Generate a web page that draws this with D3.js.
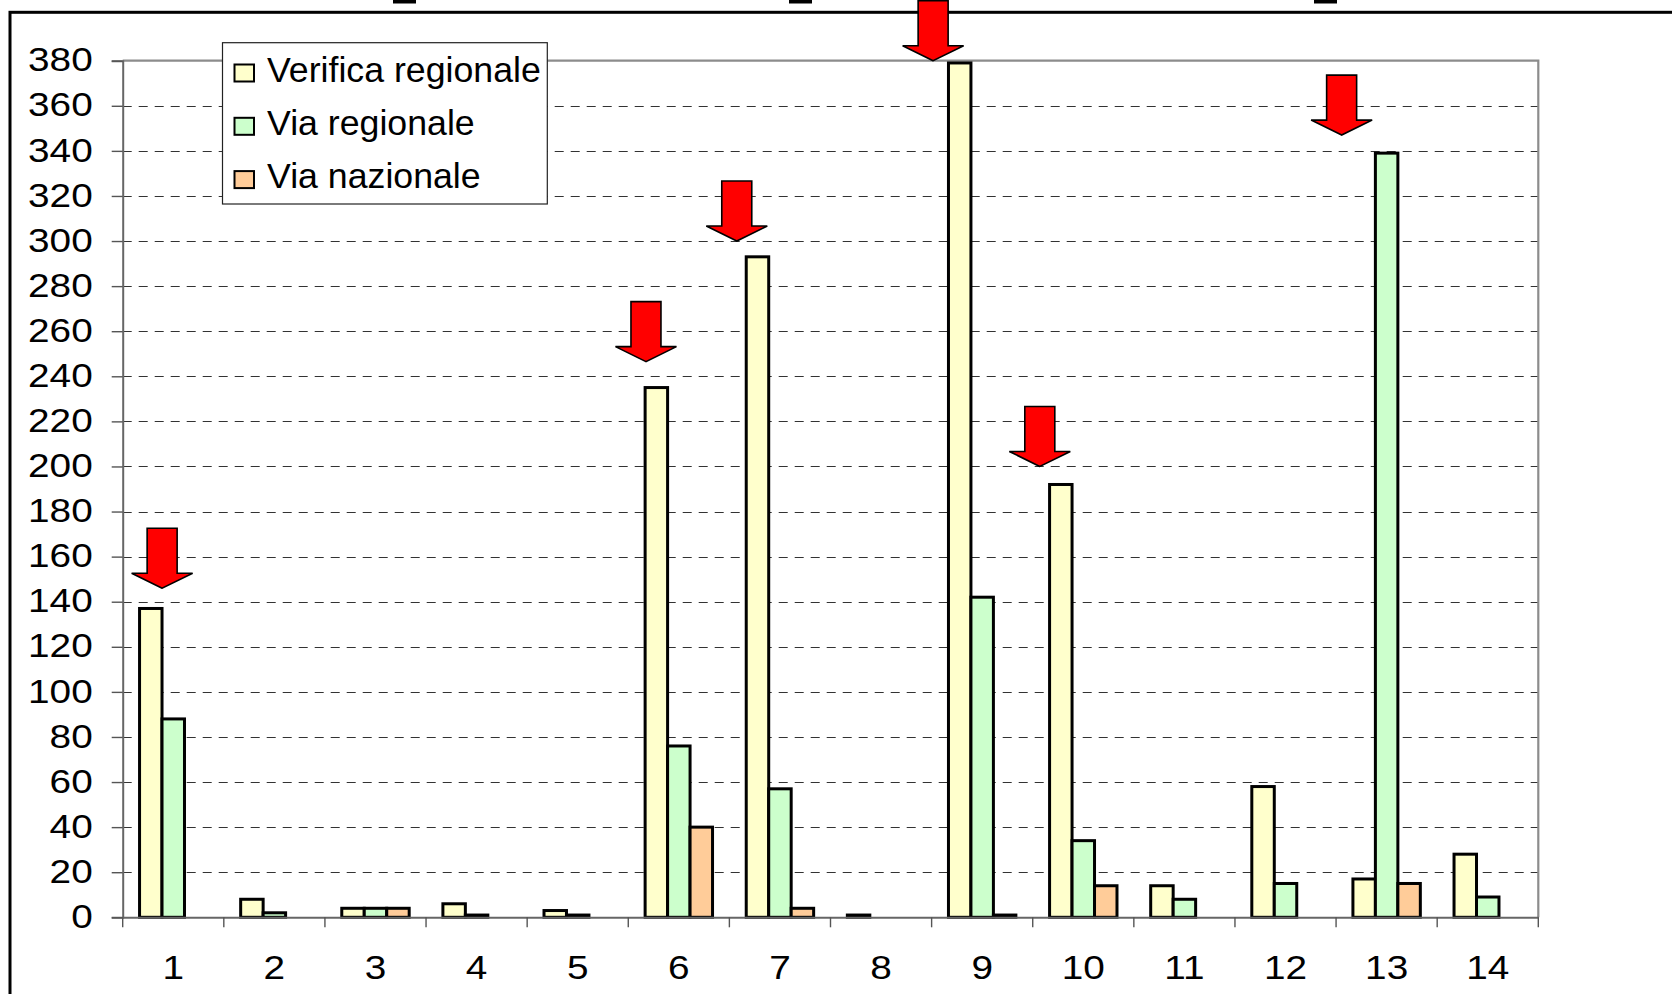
<!DOCTYPE html>
<html><head><meta charset="utf-8">
<script src="https://cdn.jsdelivr.net/npm/d3@7"></script>
<style>
body{margin:0;background:#fff}
svg{display:block}
text{font-family:"Liberation Sans",Arial,sans-serif;fill:#000}
</style>
</head><body>
<svg id="c" width="1672" height="994"></svg>
<script>
// ---- data ----
const categories = ["1","2","3","4","5","6","7","8","9","10","11","12","13","14"];
const seriesNames = ["Verifica regionale","Via regionale","Via nazionale"];
const verificaRegionale = [137, 8, 4, 6, 3, 235, 293, 1, 379, 192, 14, 58, 17, 28];
const viaRegionale      = [ 88, 2, 4, 1, 1,  76,  57, 0, 142,  34,  8, 15, 339, 9];
const viaNazionale      = [  0, 0, 4, 0, 0,  40,   4, 0,   1,  14,  0,  0,  15, 0];
const yTickValues = [0,20,40,60,80,100,120,140,160,180,200,220,240,260,280,300,320,340,360,380];
// annotation arrows: category, value at arrow tip, offset of tip from category centre (fraction of band)
const arrowCats   = ["1","6","7","9","10","13"];
const arrowTips   = [146, 246.5, 300, 380, 200, 347];
const arrowShift  = [-0.11, -0.325, -0.427, -0.485, -0.43, -0.445];

// ---- styles / layout ----
const colors = ["#FFFFCC","#CCFFCC","#FFCC99"];
const plot = {left:122.7, right:1538.3, top:60.7, bottom:917.3};
const seriesValues = [verificaRegionale, viaRegionale, viaNazionale];

const svg = d3.select("#c");

const x = d3.scaleBand().domain(categories).range([plot.left, plot.right]).padding(0);
const xs = d3.scaleBand().domain(seriesNames).range([0, x.bandwidth()]).paddingInner(0).paddingOuter(0.75);
const y = d3.scaleLinear().domain([0,380]).range([plot.bottom, plot.top]);

// outer frame
svg.append("rect").attr("x",10).attr("y",12.3).attr("width",1800).attr("height",1200)
  .attr("fill","none").attr("stroke","#000").attr("stroke-width",3);

// title fragments clipped at top
[[393,23],[789,23],[1314,23]].forEach(([a,w])=>{
  svg.append("rect").attr("x",a).attr("y",0).attr("width",w).attr("height",3.5).attr("fill","#000");
});

// gridlines
svg.append("g").selectAll("line").data(yTickValues.filter(v=>v>0 && v<380)).join("line")
  .attr("x1",plot.left).attr("x2",plot.right)
  .attr("y1",d=>Math.round(y(d))+0.5).attr("y2",d=>Math.round(y(d))+0.5)
  .attr("stroke","#333").attr("stroke-width",1.2).attr("stroke-dasharray","9,7");

// plot border top/right
svg.append("path")
  .attr("d",`M${plot.left},${plot.top}H${plot.right}V${plot.bottom}`)
  .attr("fill","none").attr("stroke","#8c8c8c").attr("stroke-width",2.2);

// legend
const lg = svg.append("g");
lg.append("rect").attr("x",222.5).attr("y",42.7).attr("width",324.8).attr("height",161.3)
  .attr("fill","#fff").attr("stroke","#222").attr("stroke-width",1.2);
seriesNames.forEach((s,i)=>{
  const base = 81.5 + i*53.3;
  lg.append("rect").attr("x",234.5).attr("y",base-17).attr("width",19.5).attr("height",17)
    .attr("fill",colors[i]).attr("stroke","#000").attr("stroke-width",2);
  lg.append("text").attr("x",267).attr("y",base).attr("font-size",35.7).text(s);
});

// bars
const groups = svg.append("g").selectAll("g").data(seriesNames).join("g")
  .attr("fill",(d,i)=>colors[i]);
groups.selectAll("rect").data((s,i)=>categories.map((c,j)=>({c, s, v:seriesValues[i][j]})).filter(d=>d.v>0))
  .join("rect")
  .attr("x",d=>x(d.c)+xs(d.s))
  .attr("width",xs.bandwidth())
  .attr("y",d=>y(d.v))
  .attr("height",d=>y(0)-y(d.v))
  .attr("stroke","#000").attr("stroke-width",3);

// y axis
const ya = svg.append("g").attr("transform",`translate(${plot.left},0)`)
  .call(d3.axisLeft(y).tickValues(yTickValues).tickSize(11).tickPadding(18));
ya.select(".domain").attr("stroke","#666").attr("stroke-width",2);
ya.selectAll(".tick line").attr("stroke","#555").attr("stroke-width",1.4);
ya.selectAll(".tick text").attr("font-size",34).attr("font-family",null)
  .attr("x",0).attr("dy","0.3em").attr("transform","translate(-30,0) scale(1.14,1)");

// x axis (labels at centres, ticks at category boundaries)
const xa = svg.append("g").attr("transform",`translate(0,${plot.bottom})`)
  .call(d3.axisBottom(x).tickSize(0).tickPadding(0));
xa.select(".domain").attr("stroke","#666").attr("stroke-width",2);
xa.selectAll(".tick text").attr("font-size",34).attr("font-family",null)
  .attr("y",62).attr("dy",null).attr("transform","scale(1.14,1)");
xa.append("g").selectAll("line").data(categories.map(c=>x(c)).concat([x.range()[1]])).join("line")
  .attr("x1",d=>d).attr("x2",d=>d).attr("y1",0).attr("y2",10)
  .attr("stroke","#555").attr("stroke-width",1.4);

// arrows
const shaftW = 30, headW = 61, shaftL = 45, headH = 15;
svg.append("g").selectAll("path").data(arrowCats.map((c,i)=>({c, v:arrowTips[i], s:arrowShift[i]}))).join("path")
  .attr("d",d=>{
    const tx = x(d.c) + x.bandwidth()/2 + d.s*x.bandwidth();
    const ty = y(d.v);
    const sh = ty - headH;
    return `M${tx},${ty}L${tx-headW/2},${sh}H${tx-shaftW/2}V${sh-shaftL}H${tx+shaftW/2}V${sh}H${tx+headW/2}Z`;
  })
  .attr("fill","#FF0000").attr("stroke","#000").attr("stroke-width",1.6).attr("stroke-linejoin","miter");
</script>
</body></html>
